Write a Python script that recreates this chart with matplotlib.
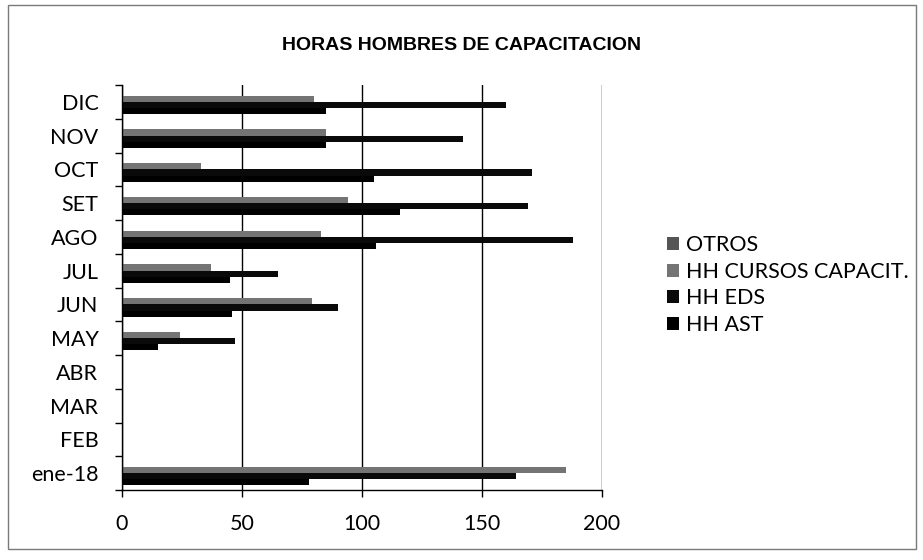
import numpy as np
import matplotlib
matplotlib.use("Agg")
import matplotlib.pyplot as plt
import matplotlib.patches as patches
from matplotlib import font_manager

# months listed bottom to top, as the axis shows them
months = ["ene-18", "FEB", "MAR", "ABR", "MAY", "JUN", "JUL", "AGO", "SET", "OCT", "NOV", "DIC"]

hh_ast = [78, 0, 0, 0, 15, 46, 45, 106, 116, 105, 85, 85]
hh_eds = [164, 0, 0, 0, 47, 90, 65, 188, 169, 171, 142, 160]
hh_cursos = [185, 0, 0, 0, 24, 79, 37, 83, 94, 33, 85, 80]
otros = [0, 0, 0, 0, 0, 0, 0, 0, 0, 0, 0, 0]

series = [
    ("HH AST", hh_ast, "#000000"),
    ("HH EDS", hh_eds, "#0a0a0a"),
    ("HH CURSOS CAPACIT.", hh_cursos, "#747474"),
    ("OTROS", otros, "#555555"),
]

label_font = ["Lato", "DejaVu Sans"]

# a condensed bold face for the title if one is installed
installed = {f.name for f in font_manager.fontManager.ttflist}
title_font, title_size = ["Liberation Sans", "DejaVu Sans"], 14
for cand in ["Liberation Sans Narrow", "DejaVu Sans Condensed"]:
    if cand in installed:
        title_font, title_size = [cand, "DejaVu Sans"], 16
        break

fig = plt.figure(figsize=(9.23, 5.6), dpi=100)
fig.patches.append(patches.Rectangle((8 / 923, 1 - 549 / 560), 908 / 923, 544 / 560,
                                     transform=fig.transFigure, fill=False,
                                     edgecolor="#7a7a7a", linewidth=1.0))

ax = fig.add_axes([122 / 923, 1 - 490 / 560, 480 / 923, 405 / 560])

y = np.arange(len(months))
h = 1 / 5.5
handles = {}
for k, (name, vals, col) in enumerate(series):
    bars = ax.barh(y + (k - 1.5) * h, vals, height=h, color=col, edgecolor="none", label=name)
    handles[name] = bars

ax.set_xlim(0, 200)
ax.set_ylim(-0.5, len(months) - 0.5)
ax.set_xticks([0, 50, 100, 150, 200])
ax.set_yticks(y)
ax.set_yticklabels(months)
ax.set_yticks(np.arange(-0.5, len(months)), minor=True)
ax.tick_params(axis="y", which="major", length=0, pad=17)
ax.tick_params(axis="y", which="minor", length=5, width=1, direction="out")
ax.tick_params(axis="x", length=5, width=1, direction="out", pad=12)
for lab in ax.get_xticklabels() + ax.get_yticklabels():
    lab.set_fontfamily(label_font)
    lab.set_fontsize(15.5)

ax.grid(axis="x", color="#000000", linewidth=1.0)
ax.set_axisbelow(True)
for s in ["top", "right"]:
    ax.spines[s].set_visible(False)
ax.spines["left"].set_linewidth(1.0)
ax.spines["bottom"].set_linewidth(1.0)

fig.text(0.5, 1 - 45 / 560, "HORAS HOMBRES DE CAPACITACION", ha="center", va="center",
         fontsize=title_size, fontweight="bold", family=title_font)

order = ["OTROS", "HH CURSOS CAPACIT.", "HH EDS", "HH AST"]
fig.legend([handles[n] for n in order], order, loc="upper left",
           bbox_to_anchor=(648 / 923, 1 - 216 / 560), frameon=False,
           prop={"family": label_font, "size": 15.5}, handlelength=0.55, handleheight=0.55,
           handletextpad=0.3, labelspacing=0.3)

fig.savefig("out.png", dpi=100)
